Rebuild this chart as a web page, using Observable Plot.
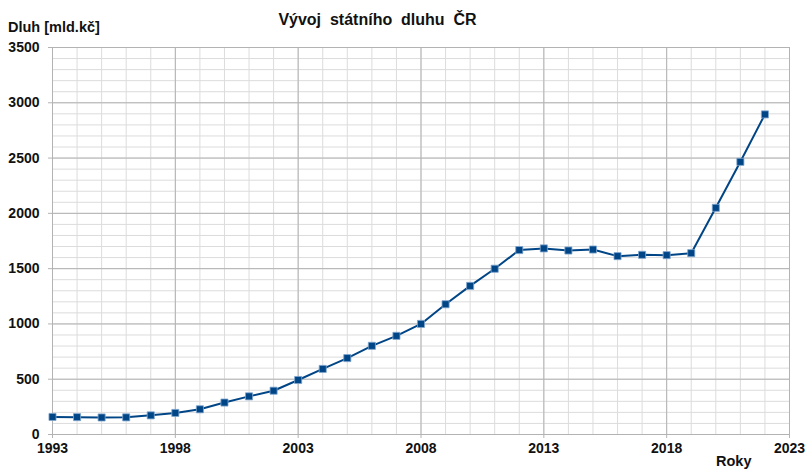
<!DOCTYPE html>
<html>
<head>
<meta charset="utf-8">
<script src="https://cdn.jsdelivr.net/npm/d3@7"></script>
<script src="https://cdn.jsdelivr.net/npm/@observablehq/plot@0.6"></script>
<style>
  html, body { margin: 0; padding: 0; background: #fff; }
  #wrap { position: relative; width: 809px; height: 475px; font-family: "Liberation Sans", Arial, sans-serif; }
  .lbl { position: absolute; font-weight: bold; color: #111; white-space: pre; line-height: 1; }
  svg { position: absolute; left: 0; top: 0; }
</style>
</head>
<body>
<div id="wrap">
  <div class="lbl" id="title" style="left:0; width:755px; text-align:center; top:12px; font-size:16px;">Vývoj  státního  dluhu  ČR</div>
  <div class="lbl" style="left:8px; top:20px; font-size:14.5px;">Dluh [mld.kč]</div>
  <div class="lbl" style="left:716px; top:454px; font-size:14.5px;">Roky</div>
</div>
<script>
const years = [1993,1994,1995,1996,1997,1998,1999,2000,2001,2002,2003,2004,2005,2006,2007,2008,2009,2010,2011,2012,2013,2014,2015,2016,2017,2018,2019,2020,2021,2022];
const debt = [159,157,154,155,173,195,228,289,345,396,493,593,691,802,892,1000,1178,1344,1499,1668,1683,1664,1673,1613,1625,1622,1640,2050,2466,2895];
const xTicks = [1993,1998,2003,2008,2013,2018,2023];
const xMinor = d3.range(1993, 2024);
const yTicks = [0,500,1000,1500,2000,2500,3000,3500];
const yMinor = d3.range(0, 3501, 100);

const data = years.map((y, i) => ({year: y, debt: debt[i]}));

const chart = Plot.plot({
  width: 809,
  height: 475,
  marginLeft: 52,
  marginRight: 20,
  marginTop: 47,
  marginBottom: 41,
  style: {fontFamily: "'Liberation Sans', Arial, sans-serif", fontSize: "14px", fontWeight: "bold", color: "#111", background: "#fff"},
  x: {domain: [1993, 2023], label: null},
  y: {domain: [0, 3500], label: null},
  marks: [
    Plot.ruleX(xMinor, {stroke: "#dcdcdc", strokeWidth: 1}),
    Plot.ruleY(yMinor, {stroke: "#dcdcdc", strokeWidth: 1}),
    Plot.ruleX(xTicks, {stroke: "#b3b3b3", strokeWidth: 1}),
    Plot.ruleY(yTicks, {stroke: "#b3b3b3", strokeWidth: 1}),
    Plot.axisX({ticks: xTicks, tickFormat: d => String(d), tickSize: 4, tickPadding: 5, stroke: "#b3b3b3", fontSize: 14, fontWeight: "bold", label: null}),
    Plot.axisY({ticks: yTicks, tickFormat: d => String(d), tickSize: 4, tickPadding: 9, stroke: "#b3b3b3", fontSize: 14, fontWeight: "bold", label: null}),
    Plot.line(data, {x: "year", y: "debt", stroke: "#004586", strokeWidth: 2}),
    Plot.dot(data, {x: "year", y: "debt", symbol: "square", r: 4, fill: "#004586", stroke: "#7fa6cf", strokeWidth: 0.8})
  ]
});
document.getElementById("wrap").prepend(chart);
</script>
</body>
</html>
